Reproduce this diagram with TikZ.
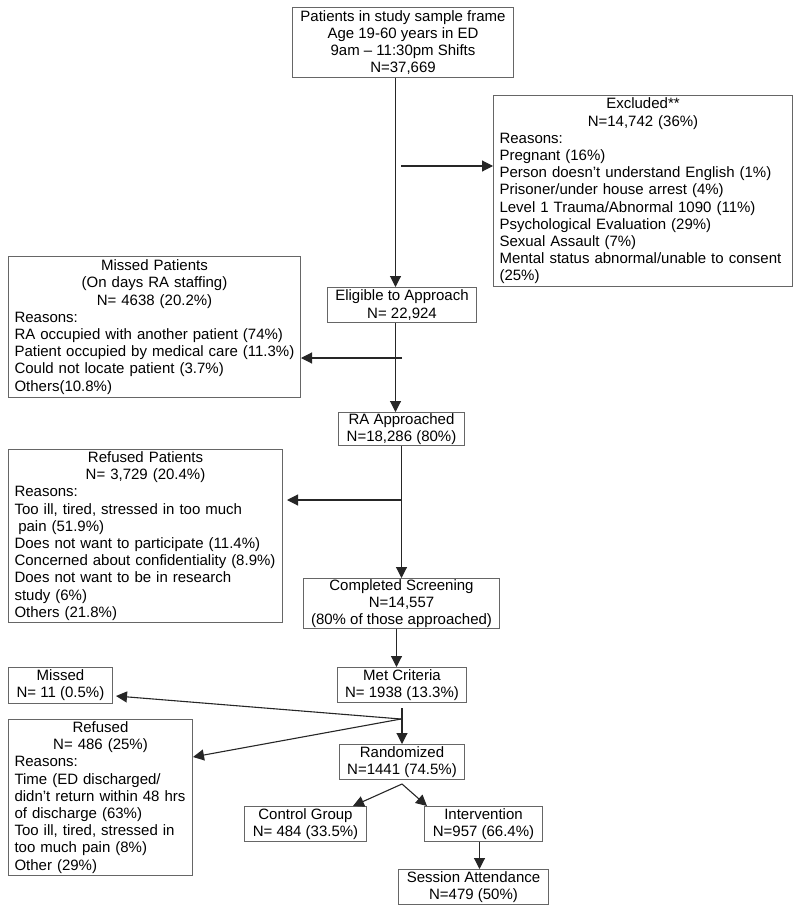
\documentclass[tikz,border=0pt]{standalone}
\usepackage{fontspec}
\setmainfont{Liberation Sans}
\usetikzlibrary{arrows.meta,calc}
\setlength{\parindent}{0pt}
\newcommand{\hdr}[1]{{\centering #1\par}}

\begin{document}
\begin{tikzpicture}[x=1pt,y=-1pt,
    box/.style={draw=black!60,line width=1pt,anchor=north west,
        inner xsep=4pt,inner ysep=1pt,align=center,
        font=\fontsize{15}{17.2}\selectfont},
    lbox/.style={box,inner xsep=6pt,align=left},
    link/.style={draw=black!85,line width=1.1pt},
    arr/.style={link,-{Triangle[length=11pt,width=11pt]}}]
    \useasboundingbox (0,0) rectangle (800,913);
    % boxes of the main column
    \node[box,minimum width=221pt,minimum height=70pt] (top) at (292,7)
        {Patients in study sample frame\\Age 19-60 years in ED\\9am – 11:30pm Shifts\\N=37,669};
    \node[box,minimum width=149pt,minimum height=35pt] (elig) at (327,287)
        {Eligible to Approach\\N= 22,924};
    \node[box,minimum width=126pt,minimum height=33pt] (raap) at (338,412)
        {RA Approached\\N=18,286 (80\%)};
    \node[box,minimum width=196pt,minimum height=50pt] (comp) at (303,578)
        {Completed Screening\\N=14,557\\(80\% of those approached)};
    \node[box,minimum width=129pt,minimum height=35pt] (met) at (337,667)
        {Met Criteria\\N= 1938 (13.3\%)};
    \node[box,minimum width=125pt,minimum height=35pt] (rand) at (339,744)
        {Randomized\\N=1441 (74.5\%)};
    \node[box,minimum width=122pt,minimum height=35pt] (ctl) at (244,806)
        {Control Group\\N= 484 (33.5\%)};
    \node[box,minimum width=118pt,minimum height=35pt] (int) at (424,806)
        {Intervention\\N=957 (66.4\%)};
    \node[box,minimum width=150pt,minimum height=35pt] (sess) at (398,869)
        {Session Attendance\\N=479 (50\%)};
    % side boxes
    \node[lbox,text width=287pt,minimum height=191pt] (excl) at (493,95)
        {\hdr{Excluded**\\N=14,742 (36\%)}
        Reasons:\\Pregnant (16\%)\\Person doesn’t understand English (1\%)\\
        Prisoner/under house arrest (4\%)\\Level 1 Trauma/Abnormal 1090 (11\%)\\
        Psychological Evaluation (29\%)\\Sexual Assault (7\%)\\
        Mental status abnormal/unable to consent\\(25\%)};
    \node[lbox,text width=280pt,minimum height=141pt] (missp) at (8,256)
        {\hdr{Missed Patients\\(On days RA staffing)\\N= 4638 (20.2\%)}
        Reasons:\\RA occupied with another patient (74\%)\\
        Patient occupied by medical care (11.3\%)\\
        Could not locate patient (3.7\%)\\Others(10.8\%)};
    \node[lbox,text width=262pt,minimum height=173pt] (refp) at (8,449)
        {\hdr{Refused Patients\\N= 3,729 (20.4\%)}
        Reasons:\\Too ill, tired, stressed in too much\\\hspace*{0.25em}pain (51.9\%)\\
        Does not want to participate (11.4\%)\\
        Concerned about confidentiality (8.9\%)\\
        Does not want to be in research\\study (6\%)\\Others (21.8\%)};
    \node[box,minimum width=104pt,minimum height=36pt] (miss) at (8,667)
        {Missed\\N= 11 (0.5\%)};
    \node[lbox,text width=172pt,minimum height=156pt] (refu) at (8,719)
        {\hdr{Refused\\N= 486 (25\%)}
        Reasons:\\Time (ED discharged/\\didn’t return within 48 hrs\\
        of discharge (63\%)\\Too ill, tired, stressed in\\
        too much pain (8\%)\\Other (29\%)};
    % branch points
    \coordinate (b1) at (401,166);
    \coordinate (b2) at (402,358);
    \coordinate (b3) at (402,500);
    \coordinate (b4) at (401,719);
    \coordinate (b5) at ([yshift=-4pt]rand.south);
    % connectors
    \draw[arr] ([xshift=-7.5pt]top.south) -- ([xshift=-7.5pt]top.south |- elig.north);
    \draw[arr] (b1) -- (b1 -| excl.west);
    \draw[arr] ([xshift=-6.5pt]elig.south) -- ([xshift=-6.5pt]elig.south |- raap.north);
    \draw[arr] (b2) -- (b2 -| missp.east);
    \draw[arr] (raap.south) -- (comp.north);
    \draw[arr] (b3) -- ([xshift=4pt]b3 -| refp.east);
    \draw[arr] ([xshift=-5pt]comp.south) -- ([xshift=-5pt]comp.south |- met.north);
    \draw[arr] ([yshift=-5pt]met.south) -- (met.south |- rand.north);
    \draw[arr] (b4) -- ([xshift=3pt,yshift=8pt]miss.south east);
    \draw[arr] (b4) -- ([yshift=-38pt]refu.north east);
    \draw[arr] (b5) -- ([xshift=-14pt]ctl.north east);
    \draw[arr] (b5) -- ([xshift=3pt]int.north west);
    \draw[arr] ([xshift=-4pt]int.south) -- ([xshift=-4pt]int.south |- sess.north);
\end{tikzpicture}
\end{document}
